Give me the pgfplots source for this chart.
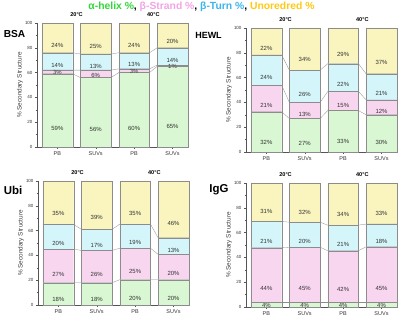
\documentclass[border=0pt]{standalone}
\usepackage{pgfplots}
\usepackage{pgfplotstable}
\pgfplotsset{compat=1.18}
\usepackage{fontspec}
\setmainfont{Liberation Sans}
\definecolor{cH}{HTML}{D9F7D2}
\definecolor{cS}{HTML}{F9D6F0}
\definecolor{cT}{HTML}{D4F6FA}
\definecolor{cU}{HTML}{FAF5BE}
\definecolor{tH}{HTML}{33D63A}
\definecolor{tS}{HTML}{F3A3E4}
\definecolor{tT}{HTML}{3BB5EC}
\definecolor{tU}{HTML}{FFC814}
\definecolor{axc}{HTML}{555555}

\pgfplotstableread{
x h s t u
0 59 3 14 24
1 56 6 13 25
2 60 3 13 24
3 65 1 14 20
}\bsa
\pgfplotstableread{
x h s t u
0 32.4 21.4 24.4 21.8
1 27 13 26 34
2 33.4 15.4 22.4 28.8
3 30 12 21 37
}\hewl
\pgfplotstableread{
x h s t u
0 18 27 20 35
1 18 26 17 39
2 20.4 25.4 19.4 34.8
3 20.4 20.4 13.4 45.8
}\ubi
\pgfplotstableread{
x h s t u
0 3.6 44.2 21.2 31
1 3.6 44.6 20.2 31.6
2 3.6 41.8 20.6 34
3 3.6 45.0 18.3 33.1
}\igg

\pgfplotsset{
  geom/.style={scale only axis, width=152bp, height=124bp,
    xmin=-0.53, xmax=3.43, ymin=0, ymax=100, clip=false, anchor=south west},
  panel/.style={geom, ybar stacked, bar width=0.8,
    axis y line*=left, axis x line*=bottom,
    axis line style={axc, line width=0.5bp},
    xtick={0,1,2,3}, xticklabels={PB,SUVs,PB,SUVs},
    ytick={0,20,...,100}, minor y tick num=1,
    tick align=outside, major tick length=2bp, minor tick length=1.2bp,
    tick style={axc, line width=0.4bp},
    /pgf/number format/assume math mode=true,
    xticklabel style={font=\fontsize{5.5}{6}\selectfont, text=black!80, yshift=1bp},
    yticklabel style={font=\fontsize{4.5}{5}\selectfont, text=black!80, xshift=1bp},
    ylabel={\% Secondary Structure},
    ylabel style={font=\fontsize{6.4}{7}\selectfont, text=black!75, anchor=center, at={(axis description cs:-0.112,0.5)}},
  },
  seg/.style={fill=#1, draw=black!45, line width=0.3bp,
    nodes near coords={\pgfmathprintnumber[fixed,precision=0]{\pgfplotspointmeta}\%},
    every node near coord/.append style={anchor=center, font=\fontsize{6}{7}\selectfont, text=black!80,
      shift={(axis direction cs:0,-\segval/4)}}},
  conn/.style={geom, hide axis},
}
\newcommand{\bars}[1]{%
  \addplot[seg=cH, point meta=\thisrow{h}, visualization depends on={\thisrow{h}\as\segval}] table[x=x,y=h]{#1};
  \addplot[seg=cS, point meta=\thisrow{s}, visualization depends on={\thisrow{s}\as\segval}] table[x=x,y=s]{#1};
  \addplot[seg=cT, point meta=\thisrow{t}, visualization depends on={\thisrow{t}\as\segval}] table[x=x,y=t]{#1};
  \addplot[seg=cU, point meta=\thisrow{u}, visualization depends on={\thisrow{u}\as\segval}] table[x=x,y=u]{#1};
  \draw[draw=black!70, line width=0.5bp, double=white, double distance=1.2bp] (axis cs:1.5,0) -- (axis cs:1.5,109);
  \node[font=\bfseries\fontsize{5.6}{6}\selectfont] at (axis cs:0.5,106.5) {20°C};
  \node[font=\bfseries\fontsize{5.6}{6}\selectfont] at (axis cs:2.5,106.5) {40°C};
}

\begin{document}
\begin{tikzpicture}
\path[use as bounding box] (0bp,0bp) rectangle (403bp,321bp);
\node[font=\bfseries\fontsize{10.4}{12}\selectfont] at (201.5bp,314.5bp)
 {\textcolor{tH}{α-helix \%}, \textcolor{tS}{β-Strand \%}, \textcolor{tT}{β-Turn \%}, \textcolor{tU}{Unoredred \%}};
\node[font=\bfseries\fontsize{10.2}{12}\selectfont] at (14.5bp,287bp) {BSA};
\node[font=\bfseries\fontsize{9}{11}\selectfont] at (208.5bp,286bp) {HEWL};
\node[font=\bfseries\fontsize{11.5}{13}\selectfont] at (13bp,131bp) {Ubi};
\node[font=\bfseries\fontsize{11.5}{13}\selectfont] at (219bp,131bp) {IgG};

% BSA
\begin{axis}[panel, at={(37bp,174bp)}]
\bars{\bsa}
\end{axis}
\begin{axis}[conn, at={(37bp,174bp)}]
\addplot[black!45, line width=0.3bp] coordinates {(-0.4,59)(0.4,59)(0.6,56)(1.4,56)(1.6,60)(2.4,60)(2.6,65)(3.4,65)};
\addplot[black!45, line width=0.3bp] coordinates {(-0.4,62)(0.4,62)(0.6,62)(1.4,62)(1.6,63)(2.4,63)(2.6,66)(3.4,66)};
\addplot[black!45, line width=0.3bp] coordinates {(-0.4,76)(0.4,76)(0.6,75)(1.4,75)(1.6,76)(2.4,76)(2.6,80)(3.4,80)};
\end{axis}

% HEWL
\begin{axis}[panel, at={(246bp,169bp)}]
\bars{\hewl}
\end{axis}
\begin{axis}[conn, at={(246bp,169bp)}]
\addplot[black!45, line width=0.3bp] coordinates {(-0.4,32.4)(0.4,32.4)(0.6,27)(1.4,27)(1.6,33.4)(2.4,33.4)(2.6,30)(3.4,30)};
\addplot[black!45, line width=0.3bp] coordinates {(-0.4,53.8)(0.4,53.8)(0.6,40)(1.4,40)(1.6,48.8)(2.4,48.8)(2.6,42)(3.4,42)};
\addplot[black!45, line width=0.3bp] coordinates {(-0.4,78.2)(0.4,78.2)(0.6,66)(1.4,66)(1.6,71.2)(2.4,71.2)(2.6,63)(3.4,63)};
\end{axis}

% Ubi
\begin{axis}[panel, at={(38bp,16bp)}]
\bars{\ubi}
\end{axis}
\begin{axis}[conn, at={(38bp,16bp)}]
\addplot[black!45, line width=0.3bp] coordinates {(-0.4,18)(0.4,18)(0.6,18)(1.4,18)(1.6,20.4)(2.4,20.4)(2.6,20.4)(3.4,20.4)};
\addplot[black!45, line width=0.3bp] coordinates {(-0.4,45)(0.4,45)(0.6,44)(1.4,44)(1.6,45.8)(2.4,45.8)(2.6,40.8)(3.4,40.8)};
\addplot[black!45, line width=0.3bp] coordinates {(-0.4,65)(0.4,65)(0.6,61)(1.4,61)(1.6,65.2)(2.4,65.2)(2.6,54.2)(3.4,54.2)};
\end{axis}

% IgG
\begin{axis}[panel, at={(246bp,14bp)}]
\bars{\igg}
\end{axis}
\begin{axis}[conn, at={(246bp,14bp)}]
\addplot[black!45, line width=0.3bp] coordinates {(-0.4,3.6)(0.4,3.6)(0.6,3.6)(1.4,3.6)(1.6,3.6)(2.4,3.6)(2.6,3.6)(3.4,3.6)};
\addplot[black!45, line width=0.3bp] coordinates {(-0.4,47.8)(0.4,47.8)(0.6,48.2)(1.4,48.2)(1.6,45.4)(2.4,45.4)(2.6,48.6)(3.4,48.6)};
\addplot[black!45, line width=0.3bp] coordinates {(-0.4,69)(0.4,69)(0.6,68.4)(1.4,68.4)(1.6,66)(2.4,66)(2.6,66.9)(3.4,66.9)};
\end{axis}
\end{tikzpicture}
\end{document}
